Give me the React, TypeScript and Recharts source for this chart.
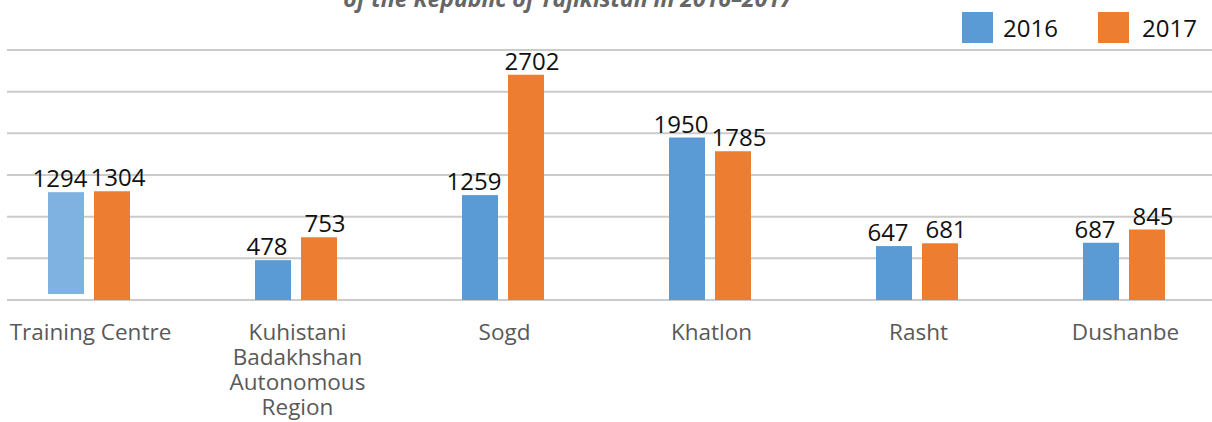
import { Bar, BarChart, CartesianGrid, Cell, LabelList, XAxis, YAxis } from 'recharts';

const regions = ['Training Centre', 'Kuhistani Badakhshan Autonomous Region', 'Sogd', 'Khatlon', 'Rasht', 'Dushanbe'];
const values2016 = [1294, 478, 1259, 1950, 647, 687];
const values2017 = [1304, 753, 2702, 1785, 681, 845];
const yTicks = [0, 500, 1000, 1500, 2000, 2500, 3000];

const data = regions.map((name, i) => ({ name, y2016: values2016[i], y2017: values2017[i] }));

const BLUE = '#5B9BD5';
const ORANGE = '#ED7D31';
const FONT = '"Open Sans", "Noto Sans", sans-serif';

function CategoryTick({ x, y, payload }: any) {
  const words: string[] = String(payload.value).split(' ');
  const lines = words.length > 2 ? words : [payload.value];
  return (
    <text x={x + 2} y={y} textAnchor="middle" fill="#595959" style={{ fontFamily: FONT, fontSize: 22.5 }}>
      {lines.map((l, i) => (
        <tspan key={i} x={x + 2} dy={i === 0 ? 32 : 25}>
          {l}
        </tspan>
      ))}
    </text>
  );
}

// the first 2016 bar is drawn faded and lifted off the baseline in the source
function Bar2016Shape(props: any) {
  const { x, y, width, height, index } = props;
  if (index === 0) {
    return <rect x={x} y={y} width={width} height={Math.max(height - 6, 0)} fill="#7FB1E1" />;
  }
  return <rect x={x} y={y} width={width} height={height} fill={BLUE} />;
}

const labelStyle = { fontFamily: FONT, fontSize: 24 };

export default function App() {
  return (
    <div style={{ position: 'absolute', left: 0, top: 0, width: 1212, height: 422, overflow: 'hidden', background: '#fff' }}>
      <div style={{ position: 'absolute', left: 7, top: 0, width: 1205, height: 422, overflow: 'hidden' }}>
        <div style={{ position: 'absolute', left: -22.5, top: 0 }}>
          <BarChart
            width={1242}
            height={422}
            data={data}
            margin={{ top: 50, right: 0, bottom: 0, left: 0 }}
            barSize={36}
            barGap={10}
          >
            <CartesianGrid vertical={false} stroke="#CBCBCB" strokeWidth={2} />
            <XAxis dataKey="name" axisLine={false} tickLine={false} height={122} interval={0} tick={<CategoryTick />} />
            <YAxis hide domain={[0, 3000]} ticks={yTicks} />
            <Bar dataKey="y2016" fill={BLUE} isAnimationActive={false} shape={<Bar2016Shape />}>
              <LabelList dataKey="y2016" position="top" offset={5} dx={-6} fill="#111" style={labelStyle} />
            </Bar>
            <Bar dataKey="y2017" fill={ORANGE} isAnimationActive={false}>
              {data.map((_, i) => (
                <Cell key={i} fill={ORANGE} />
              ))}
              <LabelList dataKey="y2017" position="top" offset={5} dx={6} fill="#111" style={labelStyle} />
            </Bar>
          </BarChart>
        </div>
      </div>
      <svg width={1212} height={60} style={{ position: 'absolute', left: 0, top: 0 }}>
        <text
          x={568}
          y={7}
          textAnchor="middle"
          fill="#666"
          style={{ fontFamily: FONT, fontSize: 23, fontWeight: 700, fontStyle: 'italic' }}
        >
          of the Republic of Tajikistan in 2016–2017
        </text>
        <rect x={962} y={12} width={31} height={31} fill={BLUE} />
        <text x={1003} y={37} fill="#111" style={{ fontFamily: FONT, fontSize: 24 }}>2016</text>
        <rect x={1098} y={12} width={31} height={31} fill={ORANGE} />
        <text x={1142} y={37} fill="#111" style={{ fontFamily: FONT, fontSize: 24 }}>2017</text>
      </svg>
    </div>
  );
}
